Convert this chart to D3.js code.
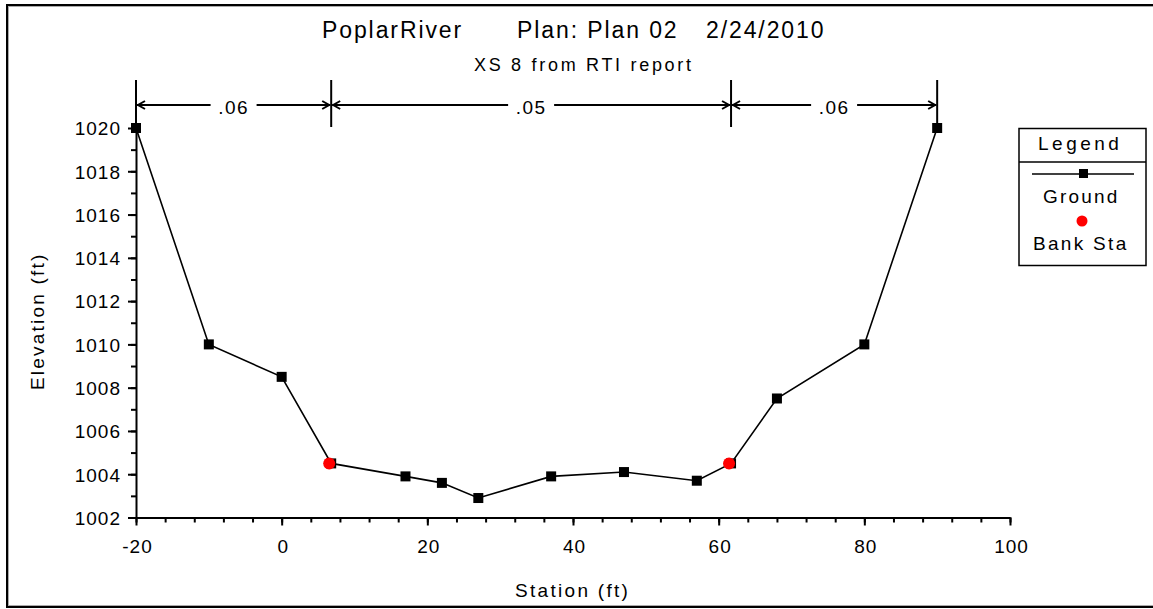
<!DOCTYPE html>
<html>
<head>
<meta charset="utf-8">
<script src="https://cdn.jsdelivr.net/npm/d3@7"></script>
<style>
  body { margin: 0; background: #fff; }
  svg text { font-family: "Liberation Sans", Arial, sans-serif; fill: #000; }
</style>
</head>
<body>
<div id="chart"></div>
<script>
// Ground profile (station, elevation)
const stations = [-20, -10, 0, 6.8, 17, 22, 27, 37, 47, 57, 61.7, 68, 80, 90];
const elevations = [1020, 1010, 1008.5, 1004.5, 1003.9, 1003.6, 1002.9, 1003.9, 1004.1, 1003.7, 1004.5, 1007.5, 1010, 1020];
// Bank stations
const bankStations = [6.8, 61.7];
const bankElevations = [1004.5, 1004.5];
// Manning's n breaks and values
const nBreaks = [-20, 6.8, 61.7, 90];
const nValues = [".06", ".05", ".06"];
// ticks
const xTicks = [-20, 0, 20, 40, 60, 80, 100];
const yTicks = [1002, 1004, 1006, 1008, 1010, 1012, 1014, 1016, 1018, 1020];

const width = 1153, height = 609;

const svg = d3.select('#chart')
    .append('svg')
    .attr('width', width)
    .attr('height', height);

// frame
svg.append('line').attr('x1', 7).attr('x2', 7).attr('y1', 4).attr('y2', 608).attr('stroke', '#000').attr('stroke-width', 2);
svg.append('line').attr('x1', 6).attr('x2', 1153).attr('y1', 5).attr('y2', 5).attr('stroke', '#000').attr('stroke-width', 2);
svg.append('line').attr('x1', 6).attr('x2', 1153).attr('y1', 607).attr('y2', 607).attr('stroke', '#000').attr('stroke-width', 2);
svg.append('line').attr('x1', 8.5).attr('x2', 8.5).attr('y1', 6).attr('y2', 606).attr('stroke', '#aaa').attr('stroke-width', 1);
svg.append('line').attr('x1', 8).attr('x2', 1153).attr('y1', 6.5).attr('y2', 6.5).attr('stroke', '#aaa').attr('stroke-width', 1);
svg.append('line').attr('x1', 8).attr('x2', 1153).attr('y1', 605.5).attr('y2', 605.5).attr('stroke', '#aaa').attr('stroke-width', 1);

const x = d3.scaleLinear().domain([-20, 100]).range([136, 1010]);
const y = d3.scaleLinear().domain([1002, 1020]).range([517.5, 128]);

// titles
svg.append('text')
    .attr('x', 322).attr('y', 38)
    .style('font-size', '23px')
    .style('letter-spacing', '1.9px')
    .text('PoplarRiver');
svg.append('text')
    .attr('x', 517).attr('y', 38)
    .style('font-size', '23px')
    .style('letter-spacing', '1.9px')
    .text('Plan: Plan 02');
svg.append('text')
    .attr('x', 706).attr('y', 38)
    .style('font-size', '23px')
    .style('letter-spacing', '1.9px')
    .text('2/24/2010');
svg.append('text')
    .attr('x', 474).attr('y', 71)
    .style('font-size', '18px')
    .style('letter-spacing', '2.7px')
    .text('XS 8 from RTI report');

const fmt = d => String(d);

// x axis
svg.append('g')
    .attr('transform', `translate(0, ${y(1002)})`)
    .call(d3.axisBottom(x).tickValues(d3.range(-20, 101, 4)).tickSize(5).tickFormat(''))
    .call(g => g.select('.domain').remove())
    .selectAll('line').attr('stroke-width', 2);
const xAxis = svg.append('g')
    .attr('transform', `translate(0, ${y(1002)})`)
    .call(d3.axisBottom(x).tickValues(xTicks).tickSize(8).tickSizeOuter(0).tickFormat(fmt));
xAxis.select('.domain').attr('stroke-width', 2);
xAxis.selectAll('.tick line').attr('stroke-width', 2);
xAxis.selectAll('.tick text')
    .attr('y', 35).attr('dy', 0)
    .attr('dx', 1)
    .style('font-size', '19px')
    .style('letter-spacing', '1px')
    .style('font-family', '"Liberation Sans", Arial, sans-serif');

// y axis
svg.append('g')
    .attr('transform', `translate(${x(-20)}, 0)`)
    .call(d3.axisLeft(y).tickValues(d3.range(1002, 1021, 1)).tickSize(5).tickFormat(''))
    .call(g => g.select('.domain').remove())
    .selectAll('line').attr('stroke-width', 2);
const yAxis = svg.append('g')
    .attr('transform', `translate(${x(-20)}, 0)`)
    .call(d3.axisLeft(y).tickValues(yTicks).tickSize(8).tickSizeOuter(0).tickFormat(fmt));
yAxis.select('.domain').attr('stroke-width', 2);
yAxis.selectAll('.tick line').attr('stroke-width', 2);
yAxis.selectAll('.tick text')
    .attr('x', -15)
    .attr('dy', '0.36em')
    .style('font-size', '19px')
    .style('letter-spacing', '1px')
    .style('font-family', '"Liberation Sans", Arial, sans-serif');

// axis titles
svg.append('text')
    .attr('x', 515).attr('y', 597)
    .style('font-size', '19px')
    .style('letter-spacing', '2.3px')
    .text('Station (ft)');
svg.append('text')
    .attr('transform', 'translate(44, 390) rotate(-90)')
    .style('font-size', '19px')
    .style('letter-spacing', '2.2px')
    .text('Elevation (ft)');

// Manning's n bar
const nTop = 80, nBottom = 127, nY = 105;
svg.selectAll('.nbreak')
    .data(nBreaks)
    .enter()
    .append('line')
    .attr('x1', d => x(d)).attr('x2', d => x(d))
    .attr('y1', nTop).attr('y2', nBottom)
    .attr('stroke', '#000').attr('stroke-width', 2);

nValues.forEach((v, i) => {
    const x0 = x(nBreaks[i]), x1 = x(nBreaks[i + 1]);
    const xm = (x0 + x1) / 2;
    const gap = 23;
    svg.append('line')
        .attr('x1', x0 + 1).attr('x2', xm - gap)
        .attr('y1', nY).attr('y2', nY)
        .attr('stroke', '#000').attr('stroke-width', 2);
    svg.append('line')
        .attr('x1', xm + gap).attr('x2', x1 - 1)
        .attr('y1', nY).attr('y2', nY)
        .attr('stroke', '#000').attr('stroke-width', 2);
    // arrow heads
    svg.append('path')
        .attr('d', `M${x0 + 9},${nY - 4} L${x0 + 2},${nY} L${x0 + 9},${nY + 4}`)
        .attr('fill', 'none').attr('stroke', '#000').attr('stroke-width', 2);
    svg.append('path')
        .attr('d', `M${x1 - 9},${nY - 4} L${x1 - 2},${nY} L${x1 - 9},${nY + 4}`)
        .attr('fill', 'none').attr('stroke', '#000').attr('stroke-width', 2);
    svg.append('text')
        .attr('x', xm).attr('y', nY + 9)
        .attr('text-anchor', 'middle')
        .style('font-size', '19px')
        .style('letter-spacing', '1.5px')
        .text(v);
});

// ground line
const ground = stations.map((s, i) => ({ s: s, z: elevations[i] }));
const line = d3.line().x(d => x(d.s)).y(d => y(d.z));
svg.append('path')
    .datum(ground)
    .attr('d', line)
    .attr('fill', 'none')
    .attr('stroke', '#000')
    .attr('stroke-width', 1.6);

svg.selectAll('.pt')
    .data(ground)
    .enter()
    .append('rect')
    .attr('x', d => x(d.s) - 5)
    .attr('y', d => y(d.z) - 5)
    .attr('width', 10).attr('height', 10)
    .attr('fill', '#000');

svg.selectAll('.bank')
    .data(bankStations)
    .enter()
    .append('circle')
    .attr('cx', d => x(d) - 2)
    .attr('cy', (d, i) => y(bankElevations[i]))
    .attr('r', 6)
    .attr('fill', '#ff0000');

// legend
const lg = svg.append('g');
lg.append('rect')
    .attr('x', 1019).attr('y', 128.5)
    .attr('width', 127).attr('height', 137)
    .attr('fill', '#fff').attr('stroke', '#000').attr('stroke-width', 1.5);
lg.append('line')
    .attr('x1', 1019).attr('x2', 1146).attr('y1', 162).attr('y2', 162)
    .attr('stroke', '#000').attr('stroke-width', 1.5);
lg.append('text').attr('x', 1038).attr('y', 150)
    .style('font-size', '19px').style('letter-spacing', '3.5px').text('Legend');
lg.append('line')
    .attr('x1', 1032).attr('x2', 1134).attr('y1', 174).attr('y2', 174)
    .attr('stroke', '#000').attr('stroke-width', 1.5);
lg.append('rect')
    .attr('x', 1079).attr('y', 169).attr('width', 9).attr('height', 9).attr('fill', '#000');
lg.append('text').attr('x', 1043).attr('y', 203)
    .style('font-size', '19px').style('letter-spacing', '2.2px').text('Ground');
lg.append('circle')
    .attr('cx', 1082).attr('cy', 221).attr('r', 5.5).attr('fill', '#ff0000');
lg.append('text').attr('x', 1033).attr('y', 250)
    .style('font-size', '19px').style('letter-spacing', '2.3px').text('Bank Sta');
</script>
</body>
</html>
